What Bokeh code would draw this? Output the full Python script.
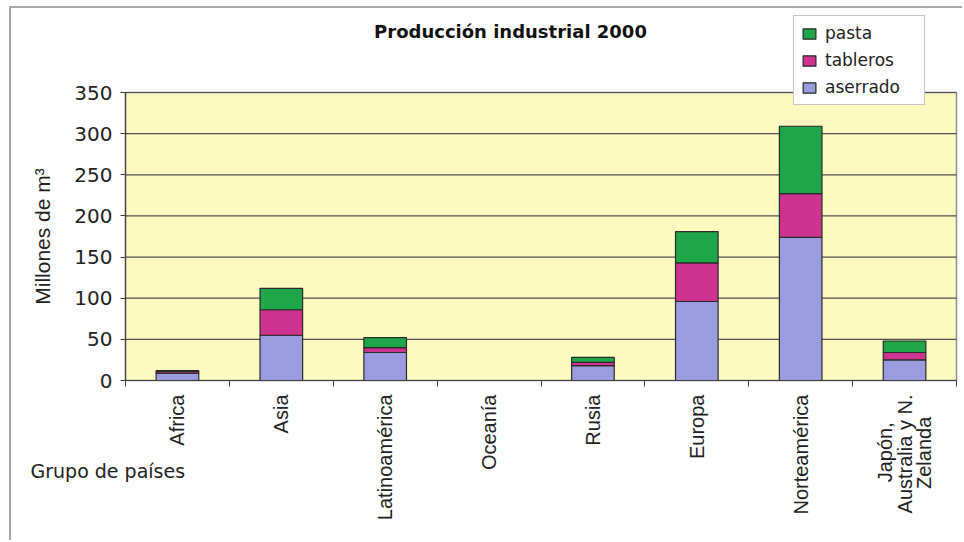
import math
from bokeh.plotting import figure
from bokeh.models import FixedTicker, Label, Legend, LegendItem, Range1d, ColumnDataSource
from bokeh.embed import file_html
from bokeh.resources import INLINE

# ---- data ----
NB = "\u00a0"
categories = ["Africa", "Asia", "Latinoamérica", "Oceanía", "Rusia", "Europa",
              "Norteamérica", "Japón," + NB * 5 + "\nAustralia y N.\nZelanda" + NB * 4]
aserrado = [9, 55, 34, 0, 18, 96, 174, 25]
tableros = [2, 31, 6, 0, 4, 47, 53, 9]
pasta = [1, 26, 12, 0, 6, 38, 82, 14]
series = ["aserrado", "tableros", "pasta"]
colors = ["#9b9bdf", "#cf3390", "#1fa64b"]
y_ticks = [0, 50, 100, 150, 200, 250, 300, 350]
title_text = "Producción industrial 2000"
y_label = "Millones de m³"
x_label = "Grupo de países"

# ---- layout (page pixels) ----
PAGE_W, PAGE_H = 964, 542
ORIG_X, ORIG_Y = 11, 8          # canvas origin (after margin + border)
W, H = PAGE_W - ORIG_X, PAGE_H - ORIG_Y
AREA_L, AREA_T, AREA_R, AREA_B = 125, 92, 956, 380

n = len(categories)
ymax = y_ticks[-1]
sx = (AREA_R - AREA_L) / n
sy = (AREA_B - AREA_T) / ymax
x_range = Range1d(-(AREA_L - ORIG_X) / sx, n + (PAGE_W - AREA_R) / sx)
y_range = Range1d(-(PAGE_H - AREA_B) / sy, ymax + (AREA_T - ORIG_Y) / sy)

xs = [i + 0.5 for i in range(n)]
src = ColumnDataSource(dict(x=xs, aserrado=aserrado, tableros=tableros, pasta=pasta))

H_FONT = "DejaVu Sans"
R_FONT = "Liberation Sans"
TXT = "#222222"

p = figure(width=W, height=H, output_backend="svg", toolbar_location=None,
           x_range=x_range, y_range=y_range,
           min_border_left=0, min_border_top=0, min_border_right=0, min_border_bottom=0,
           background_fill_color="white", border_fill_color="white")
p.styles = {"border-left": "2px solid #a8a8a8", "border-top": "2px solid #a8a8a8"}
p.margin = (ORIG_Y - 2, 0, 0, ORIG_X - 2)
p.outline_line_color = None
p.xgrid.visible = False
p.ygrid.visible = False

# plot area background + gridlines
p.quad(left=0, right=n, bottom=0, top=ymax, fill_color="#fcfac0",
       line_color="#909090", line_width=1.5, level="underlay")
p.segment(x0=0, x1=n, y0=y_ticks[1:], y1=y_ticks[1:], line_color="#505050",
          line_width=1.2, level="underlay")

renderers = p.vbar_stack(series, x="x", width=0.41, color=colors, source=src,
                         line_color="#2a2a2a", line_width=1.2)

# y axis
p.yaxis.fixed_location = 0
p.yaxis.bounds = (0, ymax)
p.yaxis.ticker = FixedTicker(ticks=y_ticks)
p.yaxis.axis_line_color = "#404040"
p.yaxis.axis_line_width = 1.2
p.yaxis.major_tick_line_color = "#404040"
p.yaxis.major_tick_out = 5
p.yaxis.major_tick_in = 0
p.yaxis.minor_tick_line_color = None
p.yaxis.major_label_text_font = H_FONT
p.yaxis.major_label_text_font_size = "20px"
p.yaxis.major_label_text_color = TXT
p.yaxis.major_label_standoff = 8
p.yaxis.axis_label = y_label
p.yaxis.axis_label_text_font = R_FONT
p.yaxis.axis_label_text_font_size = "21px"
p.yaxis.axis_label_text_font_style = "normal"
p.yaxis.axis_label_text_color = TXT
p.yaxis.axis_label_standoff = 17

# x axis: labels at centres, tick marks at category boundaries
p.xaxis.fixed_location = 0
p.xaxis.bounds = (0, n)
p.xaxis.ticker = FixedTicker(ticks=xs, minor_ticks=list(range(n + 1)))
p.xaxis.major_label_overrides = {x: c for x, c in zip(xs, categories)}
p.xaxis.major_label_orientation = math.pi / 2
p.xaxis.major_tick_out = 0
p.xaxis.major_tick_in = 0
p.xaxis.minor_tick_out = 6
p.xaxis.minor_tick_in = 0
p.xaxis.minor_tick_line_color = "#404040"
p.xaxis.axis_line_color = "#404040"
p.xaxis.axis_line_width = 1.2
p.xaxis.major_label_text_font = R_FONT
p.xaxis.major_label_text_font_size = "20px"
p.xaxis.major_label_text_line_height = 0.9
p.xaxis.major_label_text_color = TXT
p.xaxis.major_label_standoff = 8

# title and x label (screen units from the frame's bottom-left)
p.add_layout(Label(x=499, y=PAGE_H - 31, x_units="screen", y_units="screen", text=title_text,
                   text_font=H_FONT, text_font_size="18px", text_font_style="bold",
                   text_align="center", text_baseline="middle", text_color="#111111"))
p.add_layout(Label(x=19, y=PAGE_H - 470, x_units="screen", y_units="screen", text=x_label,
                   text_font=H_FONT, text_font_size="19px",
                   text_align="left", text_baseline="middle", text_color=TXT))

# legend
items = [LegendItem(label=s, renderers=[r]) for s, r in zip(series, renderers)][::-1]
legend = Legend(items=items, location=(793 - ORIG_X, PAGE_H - 105), orientation="vertical",
                label_text_font=H_FONT, label_text_font_size="17px", label_text_color=TXT,
                glyph_width=16, glyph_height=13, label_height=20, label_width=92,
                spacing=7, padding=7, label_standoff=8, margin=0,
                border_line_color="#909090", border_line_width=1.2,
                background_fill_color="white", background_fill_alpha=1)
p.add_layout(legend, "center")

open("out.html", "w").write(file_html(p, INLINE))
